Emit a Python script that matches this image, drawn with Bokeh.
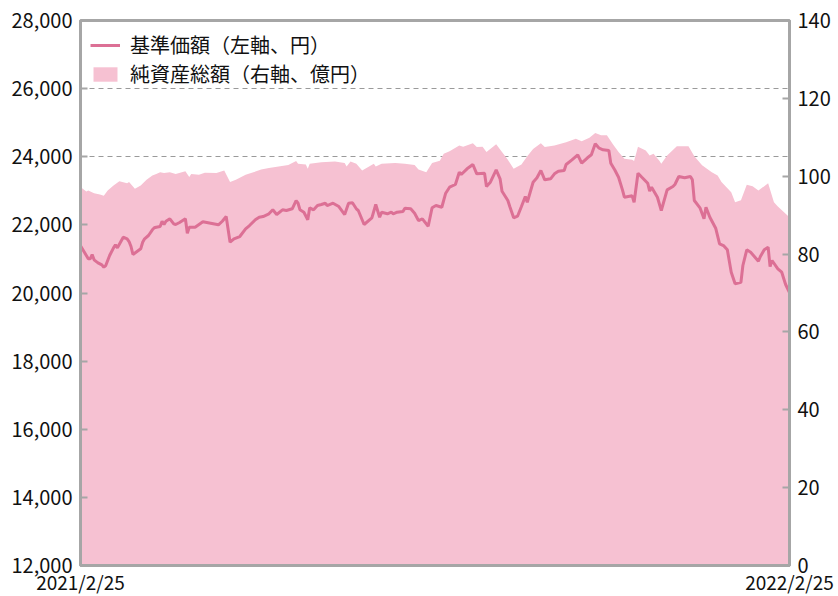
import datetime as dt
from bokeh.plotting import figure
from bokeh.models import (Range1d, LinearAxis, FixedTicker, NumeralTickFormatter,
                          Legend, LegendItem)
from bokeh.embed import file_html
from bokeh.resources import INLINE

# ---- data ----
start_date = "2021-02-25"
end_date = "2022-02-25"

# 基準価額 (left axis, 円): days since 2021/2/25, value
nav_day = [0, 2, 4, 5, 6, 7, 9, 11, 12, 13, 15, 17, 18, 19, 22, 24, 25, 26, 27, 31,
           32, 33, 35, 37, 38, 39, 41, 42, 43, 44, 46, 48, 49, 51, 54, 55, 56, 59, 61, 63,
           67, 71, 73, 75, 77, 79, 82, 85, 87, 90, 92, 94, 97, 99, 101, 104, 106, 109, 111, 112,
           113, 115, 117, 118, 120, 122, 124, 126, 127, 130, 133, 136, 138, 140, 142, 143, 146, 150, 152, 154,
           155, 158, 160, 161, 163, 166, 167, 170, 172, 174, 176, 179, 181, 183, 186, 188, 190, 193, 195, 196,
           199, 202, 204, 208, 209, 211, 214, 216, 217, 220, 221, 223, 225, 227, 229, 230, 233, 235, 237, 239,
           242, 244, 246, 249, 250, 253, 256, 258, 261, 263, 265, 267, 269, 272, 273, 275, 277, 279, 280, 282,
           284, 285, 287, 289, 292, 293, 294, 297, 299, 302, 305, 306, 308, 311, 314, 315, 316, 319, 321, 322,
           324, 327, 329, 331, 333, 335, 337, 340, 341, 343, 345, 349, 350, 352, 354, 355, 356, 359, 361, 363,
           365]
nav_value = [21390, 21197, 21003, 21003, 21130, 20974, 20886, 20827, 20757, 20807, 21100, 21326, 21415, 21326, 21638, 21591, 21511, 21365, 21130, 21297,
             21491, 21591, 21688, 21855, 21914, 21931, 21952, 22107, 22011, 22107, 22178, 22031, 22011, 22069, 22178, 21755, 21931, 21931, 22011, 22090,
             22049, 22002, 22107, 22245, 21491, 21591, 21658, 21884, 21981, 22149, 22225, 22245, 22325, 22442, 22304, 22442, 22422, 22472, 22715, 22636,
             22442, 22372, 22149, 22501, 22442, 22568, 22598, 22636, 22568, 22636, 22539, 22304, 22636, 22648, 22472, 22422, 22011, 22207, 22598, 22225,
             22372, 22325, 22372, 22325, 22372, 22392, 22489, 22472, 22342, 22128, 22178, 21961, 22501, 22568, 22518, 22930, 23106, 23185, 23546, 23479,
             23646, 23772, 23499, 23517, 23126, 23252, 23617, 23352, 22988, 22715, 22539, 22207, 22254, 22539, 22833, 22665, 23252, 23382, 23596, 23323,
             23352, 23499, 23575, 23596, 23772, 23910, 24057, 23810, 23969, 24057, 24380, 24251, 24204, 24183, 23810, 23617, 23399, 23029, 22812, 22833,
             22853, 22665, 23517, 23399, 23223, 22988, 23106, 22812, 22422, 23029, 23126, 23185, 23420, 23382, 23420, 23323, 22715, 22489, 22178, 22518,
             22225, 21902, 21444, 21394, 21268, 20610, 20269, 20316, 20807, 21268, 21197, 20933, 21071, 21268, 21344, 20777, 20954, 20710, 20610, 20249,
             20014]

# 純資産総額 (right axis, 億円): days since 2021/2/25, value
assets_day = [0, 3, 4, 7, 10, 12, 14, 17, 20, 24, 25, 28, 31, 34, 37, 39, 41, 43, 46, 49,
              54, 56, 57, 61, 64, 70, 74, 77, 80, 85, 89, 93, 97, 102, 107, 111, 112, 116, 117, 118,
              124, 131, 136, 137, 139, 142, 145, 151, 152, 155, 162, 167, 172, 174, 178, 181, 185, 187, 190, 195,
              197, 202, 204, 207, 209, 214, 217, 220, 223, 227, 230, 233, 237, 239, 244, 250, 255, 258, 262, 265,
              268, 271, 274, 277, 280, 284, 285, 287, 291, 293, 295, 298, 299, 302, 307, 313, 316, 320, 325, 328,
              330, 335, 337, 340, 343, 346, 349, 354, 357, 359, 364, 365]
assets_value = [97.2, 96.1, 96.3, 95.6, 95.3, 95.0, 96.3, 97.6, 98.7, 98.2, 98.5, 96.8, 97.6, 99.1, 100.2, 100.6, 101.0, 100.8, 101.0, 100.6,
                101.3, 99.8, 100.6, 100.4, 100.9, 100.8, 101.5, 98.5, 99.1, 100.4, 101.0, 101.7, 102.1, 102.5, 102.9, 103.9, 103.2, 103.0, 101.9, 103.2,
                103.6, 103.8, 103.4, 102.5, 103.8, 103.2, 101.5, 103.2, 102.5, 103.2, 103.4, 103.2, 102.9, 101.7, 101.0, 103.4, 104.0, 105.8, 106.4, 107.9,
                107.6, 108.5, 107.5, 107.6, 106.2, 108.2, 106.2, 104.2, 101.9, 103.0, 105.1, 107.0, 108.5, 107.5, 107.9, 108.7, 109.6, 109.0, 109.9, 111.1,
                110.5, 110.5, 108.3, 106.2, 104.5, 104.2, 103.9, 107.6, 106.6, 105.3, 105.8, 104.0, 103.2, 105.3, 107.7, 107.7, 105.1, 102.8, 101.0, 100.2,
                98.5, 95.9, 93.3, 93.8, 97.8, 97.4, 96.3, 98.2, 93.3, 92.2, 89.9, 89.4]

left_ticks = [12000, 14000, 16000, 18000, 20000, 22000, 24000, 26000, 28000]
right_ticks = [0, 20, 40, 60, 80, 100, 120, 140]
x_labels = ["2021/2/25", "2022/2/25"]

nav_label = "基準価額（左軸、円）"
assets_label = "純資産総額（右軸、億円）"

# ---- build ----
t0 = dt.datetime.fromisoformat(start_date)
t1 = dt.datetime.fromisoformat(end_date)
nav_x = [t0 + dt.timedelta(days=d) for d in nav_day]
assets_x = [t0 + dt.timedelta(days=d) for d in assets_day]

FONT = "Noto Sans CJK JP"
AXIS_COLOR = "#a6a6a6"
LINE_COLOR = "#dc7095"
AREA_COLOR = "#f6c1d2"

p = figure(x_axis_type="datetime", frame_width=709, frame_height=545,
           x_range=Range1d(t0, t1), y_range=Range1d(left_ticks[0], left_ticks[-1]),
           output_backend="svg", toolbar_location=None,
           min_border_left=80, min_border_top=20, min_border_right=49, min_border_bottom=31)
p.extra_y_ranges = {"assets": Range1d(right_ticks[0], right_ticks[-1])}

area = p.varea(x=assets_x, y1=0, y2=assets_value, y_range_name="assets",
               fill_color=AREA_COLOR, fill_alpha=1.0)
line = p.line(x=nav_x, y=nav_value, line_color=LINE_COLOR, line_width=3)

# left axis
yax = p.yaxis[0]
yax.ticker = FixedTicker(ticks=left_ticks)
yax.formatter = NumeralTickFormatter(format="0,0")

# right axis
rax = LinearAxis(y_range_name="assets", ticker=FixedTicker(ticks=right_ticks))
p.add_layout(rax, "right")

# x axis
t0_ms = (t0 - dt.datetime(1970, 1, 1)).total_seconds() * 1000
t1_ms = (t1 - dt.datetime(1970, 1, 1)).total_seconds() * 1000
xax = p.xaxis[0]
xax.ticker = FixedTicker(ticks=[t0_ms, t1_ms])
xax.major_label_overrides = {t0_ms: x_labels[0], t1_ms: x_labels[1]}
xax.major_tick_line_color = None

for ax in [yax, rax, xax]:
    ax.axis_line_color = AXIS_COLOR
    ax.axis_line_width = 3
    ax.major_label_text_font = FONT
    ax.major_label_text_font_size = "20px"
    ax.major_label_text_color = "#111111"
    ax.minor_tick_line_color = None
    ax.major_tick_in = 7
    ax.major_tick_out = 0
    ax.major_label_standoff = 8
for ax in [yax, rax]:
    ax.major_tick_line_color = AXIS_COLOR
    ax.major_tick_line_width = 2
xax.major_label_standoff = 2
xax.major_label_text_font_size = "19px"

p.xgrid.grid_line_color = None
p.ygrid.ticker = FixedTicker(ticks=left_ticks)
p.ygrid.grid_line_color = "#9a9a9a"
p.ygrid.grid_line_dash = "5 4"
p.ygrid.grid_line_width = 1

p.outline_line_color = AXIS_COLOR
p.outline_line_width = 3
p.background_fill_color = "white"
p.border_fill_color = "white"

legend = Legend(items=[LegendItem(label=nav_label, renderers=[line]),
                       LegendItem(label=assets_label, renderers=[area])],
                location="top_left", margin=10, padding=10, spacing=-4,
                glyph_width=30, glyph_height=18, label_height=24, label_standoff=10,
                label_text_font=FONT, label_text_font_size="20px",
                label_text_color="#111111",
                border_line_color=None, background_fill_alpha=0)
p.add_layout(legend)

open("out.html", "w").write(file_html(p, INLINE))
